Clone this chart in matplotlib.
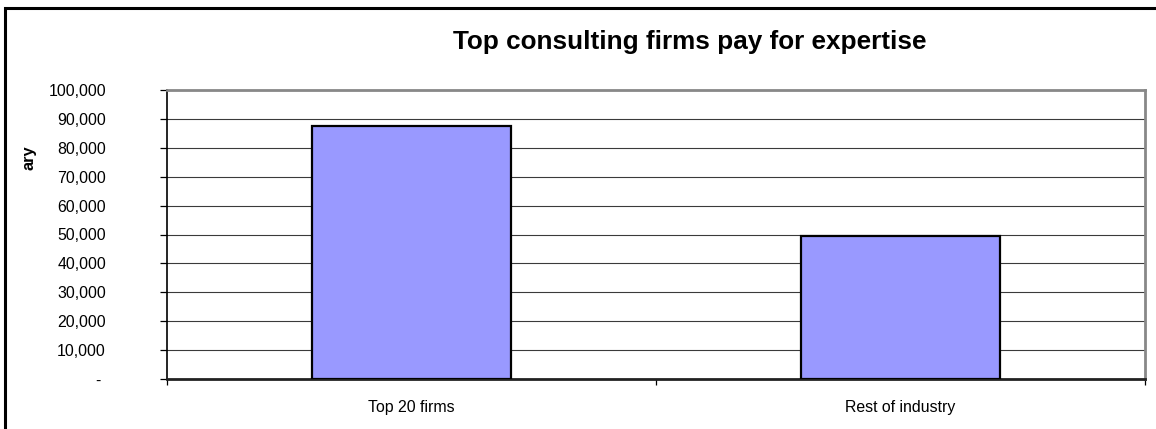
import matplotlib
matplotlib.use("Agg")
import matplotlib.pyplot as plt
from matplotlib.patches import Rectangle
from matplotlib.ticker import FuncFormatter, FixedLocator

categories = ["Top 20 firms", "Rest of industry"]
salaries = [87500, 49500]
y_ticks = list(range(0, 100001, 10000))
title = "Top consulting firms pay for expertise"
ylabel_text = "ary"

plt.rcParams["font.family"] = ["Liberation Sans", "DejaVu Sans"]

W, H = 1156, 429
fig = plt.figure(figsize=(W / 100, H / 100), dpi=100)
fig.patch.set_facecolor("white")

# plot area in pixel coordinates
left, right, top, bottom = 167, 1145, 90, 379
ax = fig.add_axes([left / W, 1 - bottom / H, (right - left) / W, (bottom - top) / H])

x = list(range(len(categories)))
ax.bar(x, salaries, width=0.405, color="#9999FF", edgecolor="black",
       linewidth=1.6, zorder=3)

ax.set_xlim(-0.5, len(categories) - 0.5)
ax.set_ylim(0, 100000)

# horizontal gridlines
ax.yaxis.set_major_locator(FixedLocator(y_ticks))
ax.grid(axis="y", color="#3a3a3a", linewidth=0.8, zorder=1)
ax.grid(axis="x", visible=False)

def fmt(v, pos):
    return "- " if v == 0 else f"{v:,.0f}"

ax.yaxis.set_major_formatter(FuncFormatter(fmt))
ax.tick_params(axis="y", direction="out", length=5, width=0.9, color="black",
               pad=39, labelsize=11.4)

# category boundaries as ticks, category names as minor labels
ax.xaxis.set_major_locator(FixedLocator([-0.5, 0.5, 1.5]))
ax.xaxis.set_major_formatter(FuncFormatter(lambda v, p: ""))
ax.xaxis.set_minor_locator(FixedLocator(x))
ax.set_xticklabels(categories, minor=True)
ax.tick_params(axis="x", which="major", direction="out", length=4, width=0.9)
ax.tick_params(axis="x", which="minor", length=0, pad=15, labelsize=11.4)

for side in ("top", "right"):
    ax.spines[side].set_color("#888888")
    ax.spines[side].set_linewidth(2.0)
ax.spines["left"].set_color("black")
ax.spines["left"].set_linewidth(1.2)
ax.spines["bottom"].set_color("#222222")
ax.spines["bottom"].set_linewidth(2.0)
ax.set_axisbelow(True)

fig.text(690 / W, 1 - 42 / H, title, ha="center", va="center",
         fontsize=18.8, fontweight="bold")
fig.text(29 / W, 1 - 158 / H, ylabel_text, ha="center", va="center",
         rotation=90, fontsize=11.8, fontweight="bold")

# chart frame
frame = Rectangle((4.5 / W, -0.1), 1.2, 1.1 - 8 / H, transform=fig.transFigure,
                  fill=False, edgecolor="black", linewidth=2.2, clip_on=False)
fig.patches.append(frame)

fig.savefig("out.png", dpi=100, facecolor="white")
